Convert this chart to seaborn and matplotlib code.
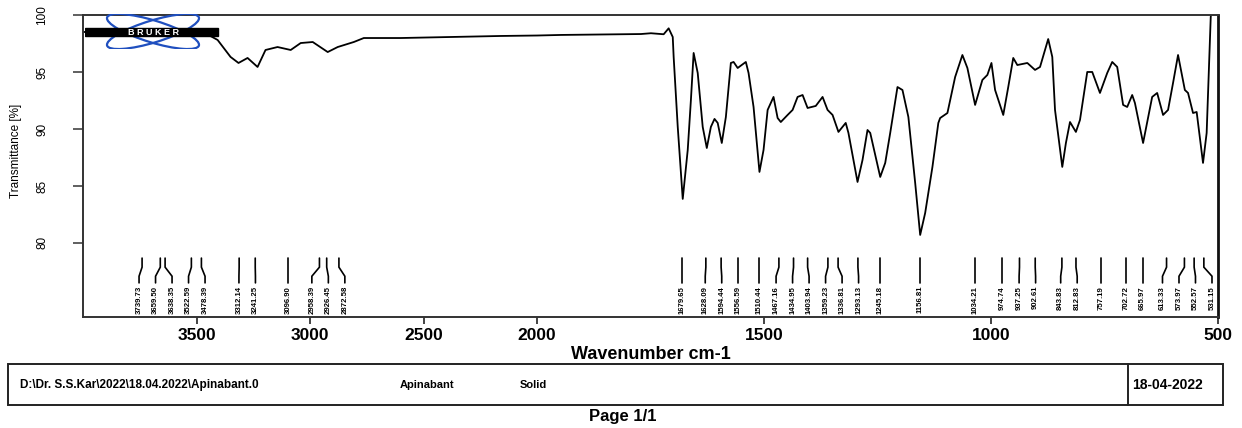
import numpy as np
import pandas as pd
import matplotlib
matplotlib.use("Agg")
import matplotlib.pyplot as plt
import matplotlib.patches as mpatches
import matplotlib.transforms as mtransforms
import seaborn as sns

# ---- spectrum (wavenumber cm-1, transmittance %) ----
wavenumber = [3998, 3835, 3659, 3482, 3447, 3407, 3350, 3315, 3275, 3231, 3196, 3143,
              3085, 3041, 2988, 2922, 2878, 2807, 2763, 2600, 2380, 2159, 2000, 1947,
              1859, 1771, 1749, 1721, 1710, 1701, 1699, 1690, 1679, 1668, 1661, 1655,
              1646, 1635, 1626, 1617, 1609, 1602, 1593, 1584, 1573, 1567, 1558, 1540,
              1534, 1523, 1510, 1501, 1492, 1479, 1470, 1463, 1448, 1437, 1426, 1415,
              1404, 1386, 1371, 1360, 1349, 1336, 1320, 1314, 1294, 1283, 1272, 1266,
              1244, 1233, 1222, 1206, 1195, 1182, 1167, 1156, 1145, 1129, 1116, 1112,
              1096, 1079, 1063, 1052, 1035, 1019, 1008, 999, 991, 973, 962, 951, 942,
              920, 903, 892, 874, 865, 859, 843, 835, 826, 813, 804, 788, 777, 760,
              744, 733, 722, 709, 700, 689, 683, 665, 645, 634, 621, 610, 599, 588,
              573, 566, 555, 547, 533, 525, 520, 516, 513]
transmittance = [98.51, 98.50, 98.50, 98.42, 98.25, 97.81, 96.32, 95.79, 96.23, 95.44,
                 96.93, 97.19, 96.93, 97.54, 97.63, 96.75, 97.19, 97.63, 97.98, 97.98,
                 98.07, 98.16, 98.20, 98.25, 98.29, 98.33, 98.40, 98.31, 98.83, 98.07,
                 96.32, 90.18, 83.86, 88.16, 92.54, 96.67, 94.91, 90.18, 88.33, 90.18,
                 90.88, 90.53, 88.77, 91.05, 95.79, 95.88, 95.35, 95.88, 94.91, 91.93,
                 86.23, 88.16, 91.67, 92.81, 90.96, 90.61, 91.23, 91.67, 92.81, 92.98,
                 91.84, 92.02, 92.81, 91.67, 91.23, 89.74, 90.53, 89.65, 85.35, 87.28,
                 89.91, 89.65, 85.79, 87.02, 89.65, 93.68, 93.42, 91.05, 85.26, 80.70,
                 82.63, 86.67, 90.53, 90.96, 91.40, 94.56, 96.49, 95.35, 92.11, 94.30,
                 94.74, 95.79, 93.42, 91.23, 93.68, 96.23, 95.61, 95.79, 95.18, 95.44,
                 97.89, 96.32, 91.67, 86.67, 88.77, 90.61, 89.74, 90.79, 95.00, 95.00,
                 93.16, 94.91, 95.88, 95.44, 92.11, 91.93, 92.98, 92.28, 88.77, 92.81,
                 93.16, 91.23, 91.67, 94.04, 96.49, 93.42, 93.16, 91.40, 91.49, 87.02,
                 89.65, 95.35, 99.82, 101.0]

# ---- annotated peak positions ----
peak_labels = ["3739.73", "3659.50", "3638.35", "3522.59", "3478.39", "3312.14",
               "3241.25", "3096.90", "2958.39", "2926.45", "2872.58",
               "1679.65", "1628.09", "1594.44", "1556.59", "1510.44", "1467.16",
               "1434.95", "1403.94", "1359.23", "1336.81", "1293.13", "1245.18",
               "1156.81", "1034.21", "974.74", "937.25", "902.61", "843.83", "812.83",
               "757.19", "702.72", "665.97", "613.33", "573.97", "552.57", "531.15"]

x_ticks = [3500, 3000, 2500, 2000, 1500, 1000, 500]
y_ticks = [80, 85, 90, 95, 100]

file_path = "D:\\Dr. S.S.Kar\\2022\\18.04.2022\\Apinabant.0"
sample_name = "Apinabant"
sample_form = "Solid"
meas_date = "18-04-2022"

df = pd.DataFrame({"wavenumber": wavenumber, "transmittance": transmittance})
peaks = np.array([float(p) for p in peak_labels])


# OPUS-style axis: region above 2000 cm-1 compressed by a factor of two
def fwd(w):
    w = np.asarray(w, dtype=float)
    return np.where(w > 2000, 2000 + (w - 2000) / 2.0, w)


def inv(u):
    u = np.asarray(u, dtype=float)
    return np.where(u > 2000, 2000 + (u - 2000) * 2.0, u)


sns.set_theme(style="white")
plt.rcParams["font.family"] = ["Liberation Sans", "DejaVu Sans"]
plt.rcParams.update({"text.color": "black", "axes.labelcolor": "black",
                     "xtick.color": "black", "ytick.color": "black"})

W, H = 1242, 428
fig = plt.figure(figsize=(W / 100, H / 100), dpi=100)
ax = fig.add_axes([83 / W, 1 - 317 / H, (1218 - 83) / W, (317 - 15) / H])
ax.set_xscale("function", functions=(fwd, inv))

sns.lineplot(data=df, x="wavenumber", y="transmittance", sort=False,
             estimator=None, color="black", linewidth=1.3, ax=ax)

ax.set_xlim(4000, 500)
ax.set_ylim(73.5, 100)
ax.set_xticks(x_ticks)
ax.set_xticklabels([str(t) for t in x_ticks])
ax.set_yticks(y_ticks)
ax.set_yticklabels([str(t) for t in y_ticks])
ax.xaxis.set_minor_locator(matplotlib.ticker.NullLocator())

ax.tick_params(axis="x", direction="out", length=5, width=1.2, color="#222222",
               labelcolor="black", pad=3, labelsize=12.5, bottom=True)
ax.tick_params(axis="y", direction="out", length=7, width=1.2, color="#444444",
               labelcolor="black", pad=18, labelsize=8.5, left=True, labelrotation=90)
for lab in ax.get_yticklabels():
    lab.set_va("center")
for lab in ax.get_xticklabels():
    lab.set_fontweight("bold")

for side, sp in ax.spines.items():
    sp.set_visible(True)
    sp.set_color("#333333")
    sp.set_linewidth(1.4)
ax.spines["right"].set_linewidth(2.0)
ax.spines["right"].set_color("#111111")

ax.set_xlabel("Wavenumber cm-1", fontsize=13, fontweight="bold", labelpad=2,
              color="black")
ax.set_ylabel("Transmittance [%]", fontsize=8.5, labelpad=6, color="black")
ax.yaxis.set_label_coords(-0.054, 0.55)
ax.grid(False)

# ---- peak markers: leader lines and spread-out rotated labels ----
px_per_u = (1218 - 83) / (float(fwd(4000)) - 500)
gap_u = 16.5 / px_per_u
order = np.argsort(-peaks)
v = -fwd(peaks[order]).astype(float)
for _ in range(600):
    for i in range(len(v) - 1):
        d = v[i + 1] - v[i]
        if d < gap_u:
            s = (gap_u - d) / 2
            v[i] -= s
            v[i + 1] += s
text_w = np.empty_like(peaks)
text_w[order] = inv(-v)

trans = mtransforms.blended_transform_factory(ax.transData, ax.transAxes)
y_top, y_k1, y_k2, y_bot, y_txt = 0.195, 0.165, 0.135, 0.113, 0.103
for w, tw, lab in zip(peaks, text_w, peak_labels):
    ax.plot([w, w, tw, tw], [y_top, y_k1, y_k2, y_bot], color="black",
            linewidth=1.2, transform=trans, clip_on=False, solid_joinstyle="miter")
    ax.text(tw, y_txt, lab, rotation=90, ha="center", va="top", fontsize=5.6,
            fontweight="bold", color="black", transform=trans)

# ---- instrument logo ----
lax = fig.add_axes([85 / W, 1 - 49 / H, 135 / W, 35 / H])
lax.set_xlim(85, 220)
lax.set_ylim(49, 14)
lax.axis("off")
for ang in (17, -17):
    lax.add_patch(mpatches.Ellipse((153, 31.5), 96, 22, angle=ang, fill=False,
                                   edgecolor="#1f4fbf", linewidth=1.6))
lax.add_patch(mpatches.Rectangle((85, 28), 133, 8, color="black"))
lax.text(153, 32.2, "B R U K E R", color="white", fontsize=6.5, fontweight="bold",
         ha="center", va="center")

# ---- sample information box ----
fig.add_artist(mpatches.Rectangle((8 / W, 1 - 405 / H), (1223 - 8) / W, 41 / H,
                                  fill=False, edgecolor="#222222", linewidth=1.4,
                                  transform=fig.transFigure))
fig.add_artist(matplotlib.lines.Line2D([1128 / W, 1128 / W], [1 - 405 / H, 1 - 364 / H],
                                       color="#222222", linewidth=1.4,
                                       transform=fig.transFigure))
fig.text(20 / W, 1 - 385 / H, file_path, fontsize=8.5, fontweight="bold", va="center")
fig.text(400 / W, 1 - 385 / H, sample_name, fontsize=8, fontweight="bold", va="center")
fig.text(520 / W, 1 - 385 / H, sample_form, fontsize=8, fontweight="bold", va="center")
fig.text(1132 / W, 1 - 385 / H, meas_date, fontsize=10, fontweight="bold", va="center")
fig.text(623 / W, 1 - 416 / H, "Page 1/1", fontsize=12, fontweight="bold",
         ha="center", va="center")

fig.savefig("out.png", dpi=100, facecolor="white")
